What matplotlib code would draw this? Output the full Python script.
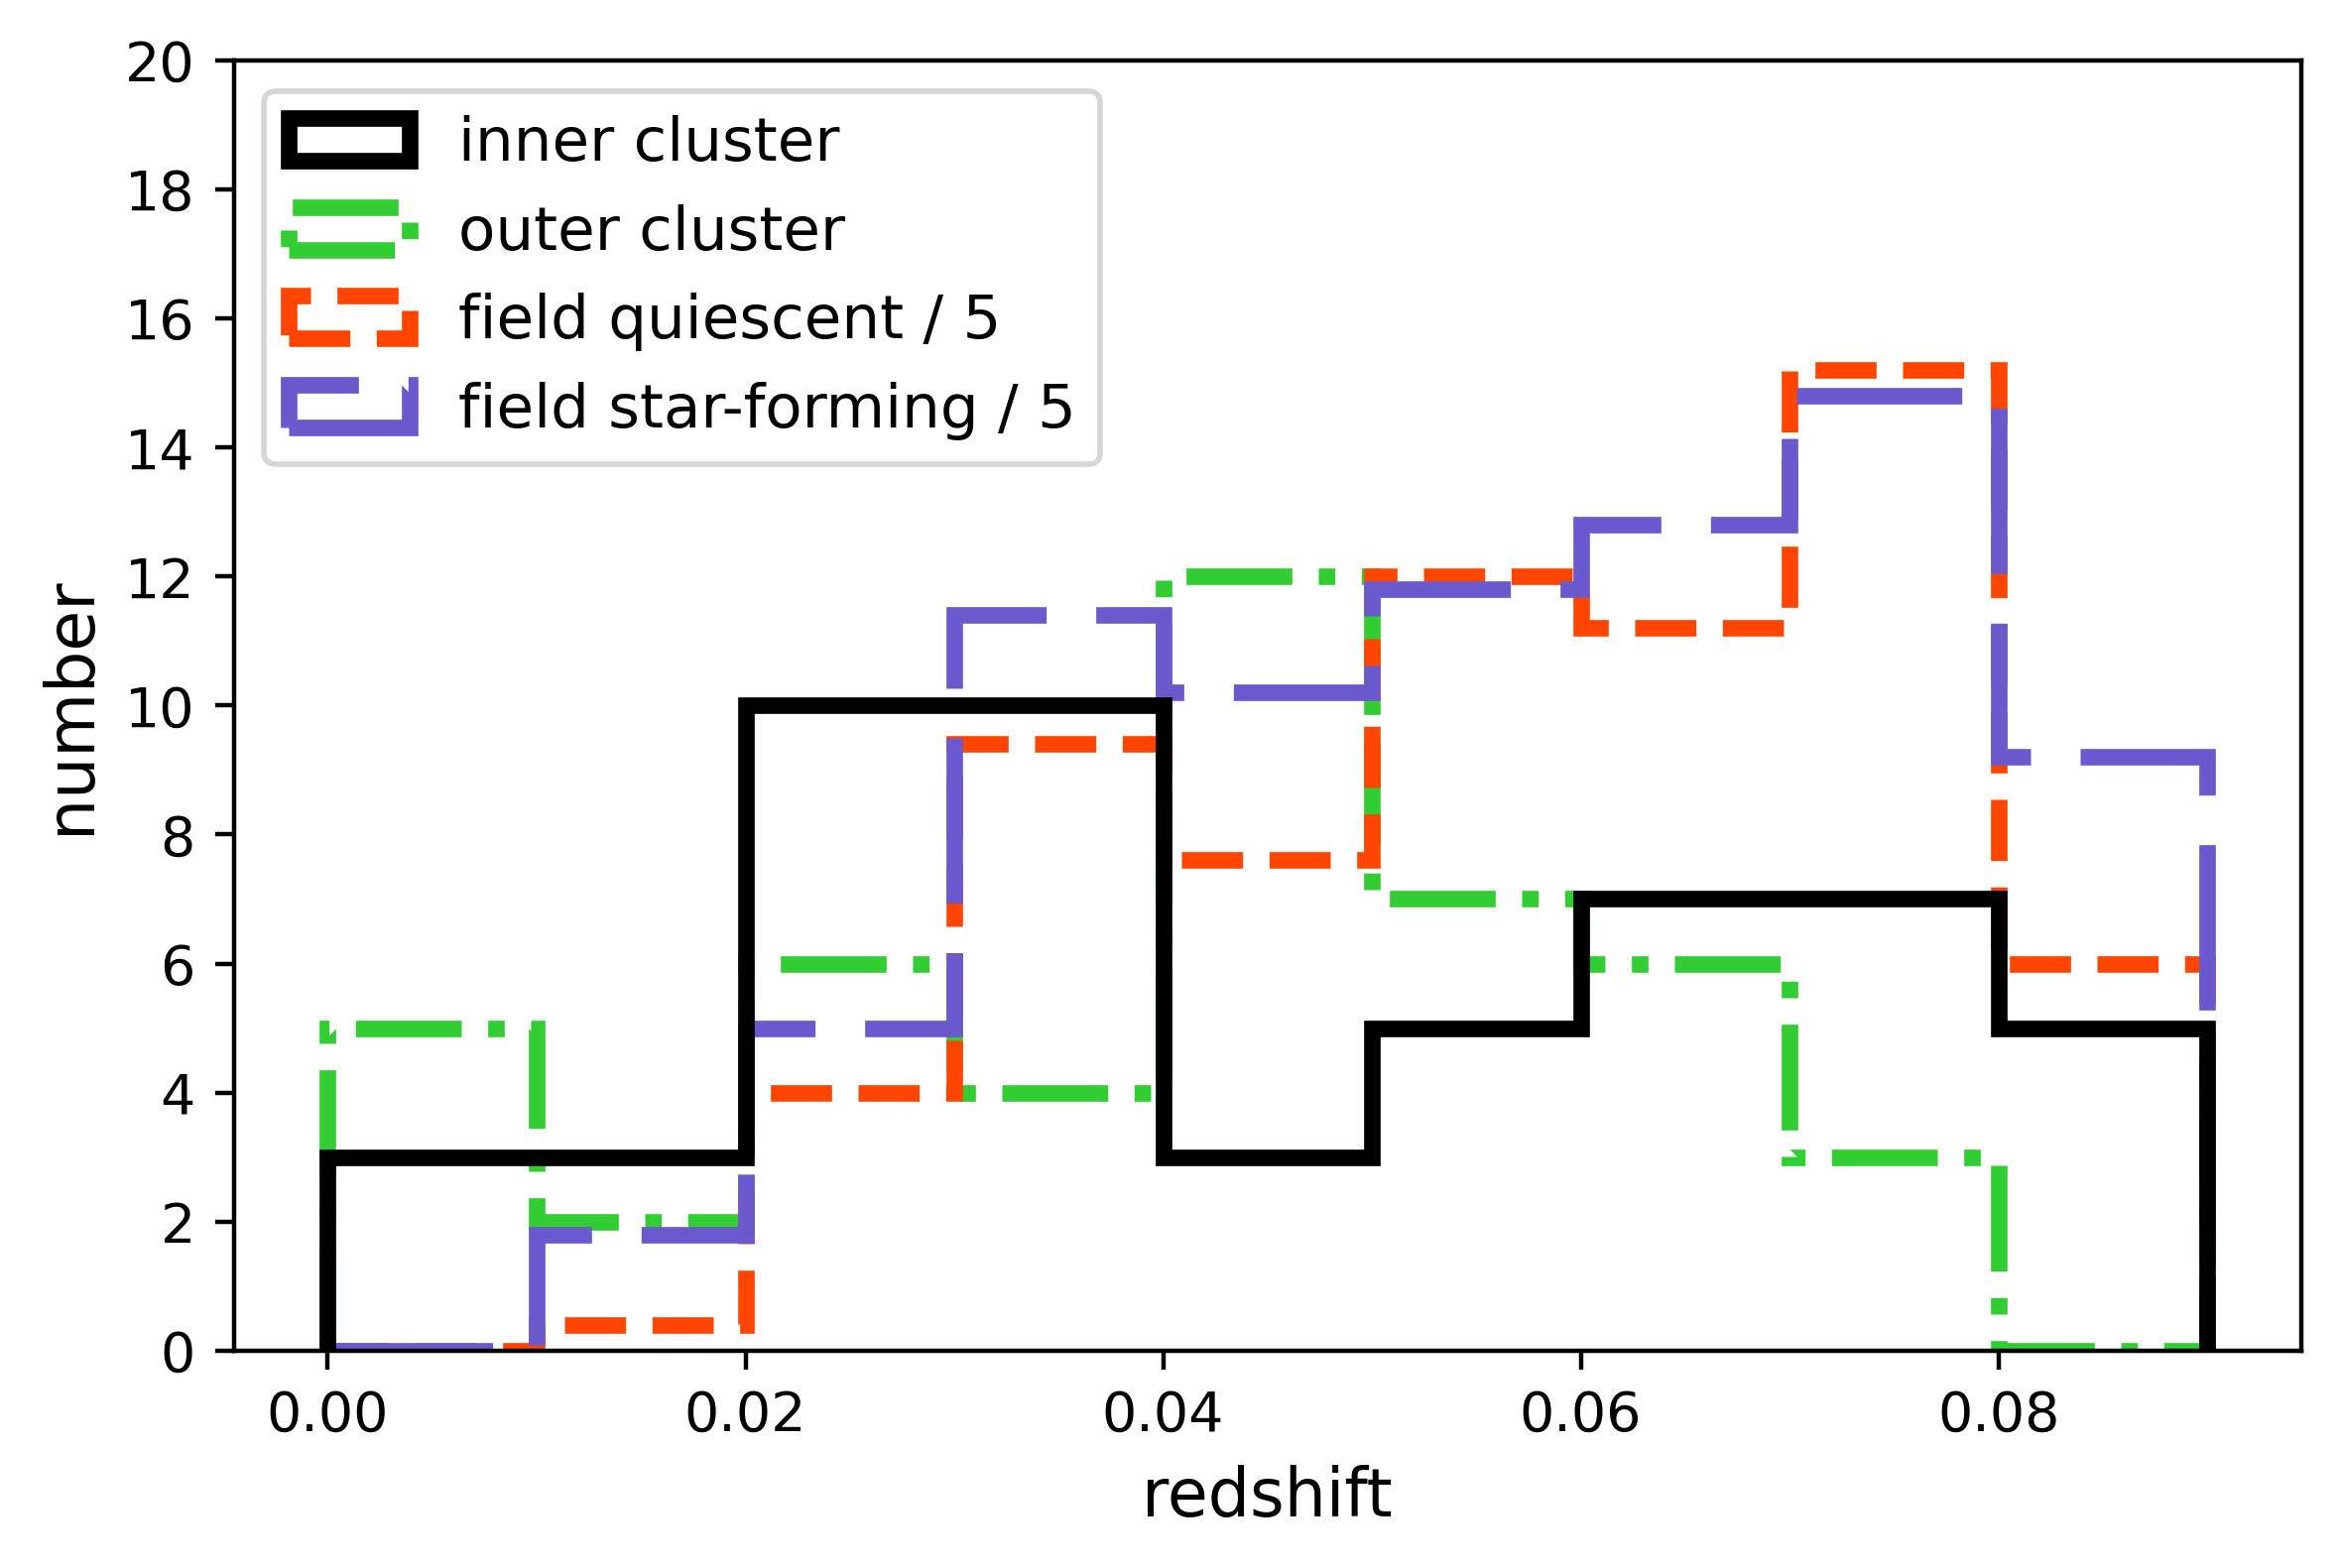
import numpy as np
import matplotlib
matplotlib.use("Agg")
import matplotlib.pyplot as plt

# redshift bin edges
bin_edges = [0.00, 0.01, 0.02, 0.03, 0.04, 0.05, 0.06, 0.07, 0.08, 0.09]

# counts per bin
inner_cluster = [3, 3, 10, 10, 3, 5, 7, 7, 5]
outer_cluster = [5, 2, 6, 4, 12, 7, 6, 3, 0]
field_quiescent = [0, 2, 20, 47, 38, 60, 56, 76, 30]      # plotted / 5
field_starforming = [0, 9, 25, 57, 51, 59, 64, 74, 46]    # plotted / 5
field_scale = 5

series_labels = ["inner cluster", "outer cluster",
                 "field quiescent / 5", "field star-forming / 5"]

x_ticks = [0.00, 0.02, 0.04, 0.06, 0.08]
y_ticks = [0, 2, 4, 6, 8, 10, 12, 14, 16, 18, 20]

edges = np.array(bin_edges)
centers = 0.5 * (edges[:-1] + edges[1:])

fig = plt.figure(figsize=(5.9, 3.9525), dpi=400)
fig.subplots_adjust(left=0.0999, right=0.983, top=0.9614, bottom=0.1387)
ax = fig.add_subplot(111)

lw = 3
ax.hist(centers, bins=edges, weights=inner_cluster, histtype="step",
        color="black", lw=lw, linestyle="-", label=series_labels[0], zorder=3)
ax.hist(centers, bins=edges, weights=outer_cluster, histtype="step",
        color="limegreen", lw=lw, linestyle="-.", label=series_labels[1], zorder=1)
ax.hist(centers, bins=edges, weights=np.array(field_quiescent) / field_scale,
        histtype="step", color="orangered", lw=lw, linestyle="--",
        label=series_labels[2], zorder=1)
ax.hist(centers, bins=edges, weights=np.array(field_starforming) / field_scale,
        histtype="step", color="slateblue", lw=lw, linestyle=(0, (10, 3)),
        label=series_labels[3], zorder=1)

ax.set_ylim(0, 20)
ax.set_xticks(x_ticks)
ax.set_yticks(y_ticks)
ax.set_xlabel("redshift", fontsize=12)
ax.set_ylabel("number", fontsize=12)
ax.legend(loc="upper left", fontsize=11)

fig.savefig("out.png", dpi=400)
